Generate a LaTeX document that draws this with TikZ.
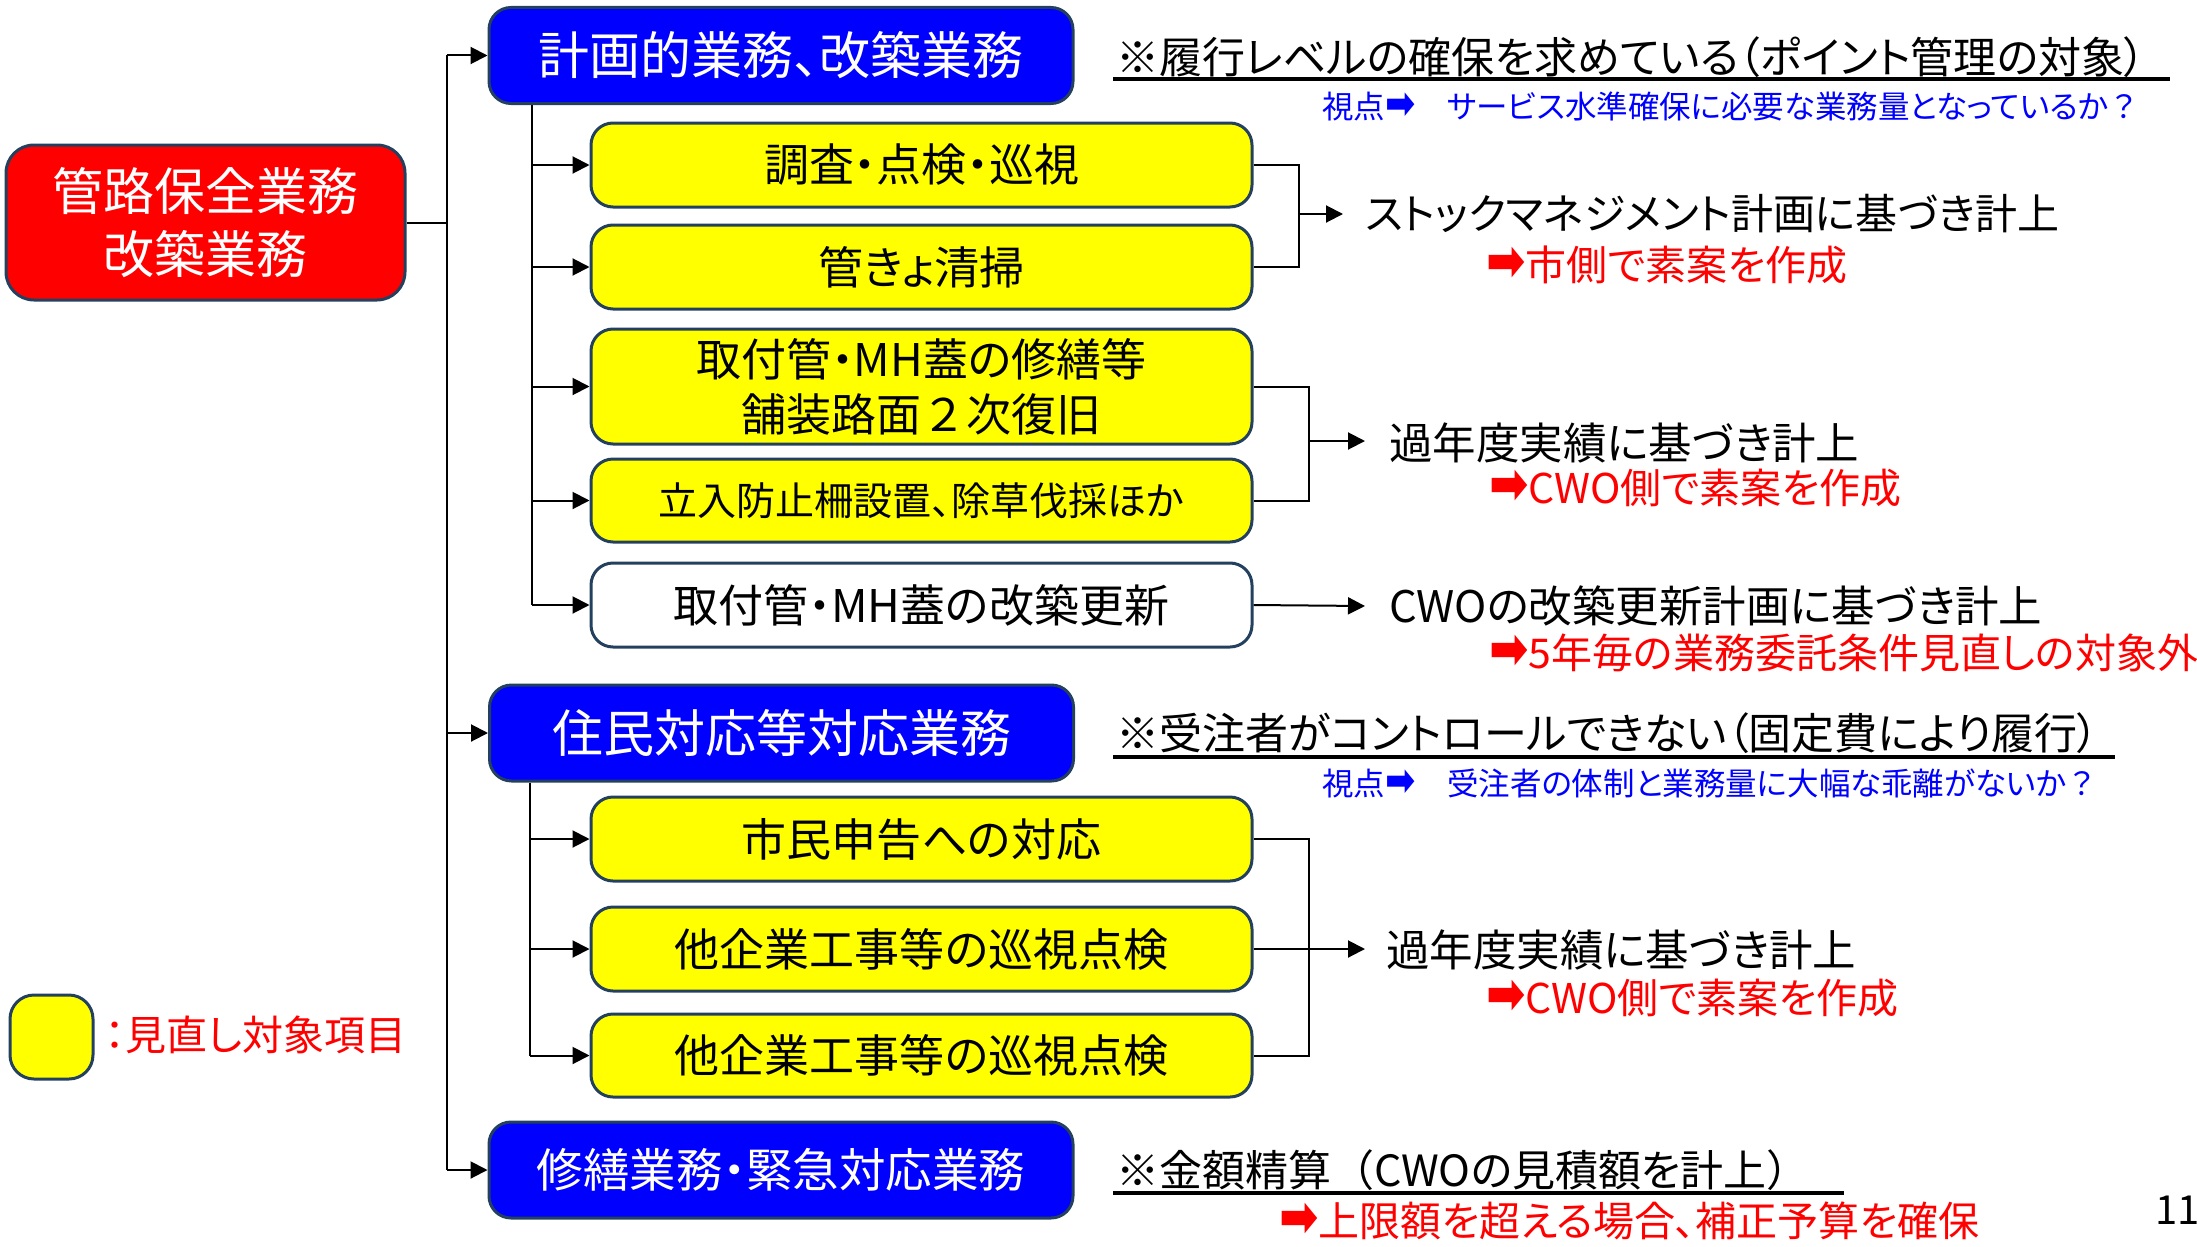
\documentclass[tikz,border=0pt]{standalone}
\usepackage{fontspec}
\setmainfont{Noto Sans CJK JP}[RawFeature=+palt]
\newfontfamily\fw{Noto Sans CJK JP}
\newfontfamily\symfont{DejaVu Sans Bold}
\newcommand\rarr{{\symfont\smash{\scalebox{1.15}[1.4]{➡}}}}
\usetikzlibrary{arrows.meta,calc}
\definecolor{bd}{HTML}{24405F}
\definecolor{ylw}{HTML}{FFFF00}
\definecolor{blu}{HTML}{0000FF}
\definecolor{rd}{HTML}{FF0000}
\begin{document}
\begin{tikzpicture}[x=1pt,y=-1pt,
  box/.style={draw=bd,line width=3pt,rounded corners=22pt,inner sep=0pt,align=center},
  hdr/.style={box,fill=blu,text=white,minimum width=584pt,minimum height=96pt,font=\fontsize{51}{60}\selectfont},
  ybox/.style={box,fill=ylw,text=black,minimum width=661pt,minimum height=84pt,font=\fontsize{45}{55}\selectfont},
  wbox/.style={box,fill=white,text=black,minimum width=661pt,minimum height=84pt,font=\fontsize{45}{55}\selectfont},
  conn/.style={draw=black,line width=2pt},
  arr/.style={conn,-{Triangle[length=17pt,width=17pt]}},
  rtxt/.style={anchor=west,inner sep=0pt,font=\fontsize{43.5}{50}\selectfont},
  redtxt/.style={anchor=west,inner sep=0pt,text=rd,font=\fontsize{41}{48}\selectfont},
  bluetxt/.style={anchor=west,inner sep=0pt,text=blu,font=\fontsize{31.5}{38}\selectfont},
  ul/.style={draw=black,line width=3.5pt}
]
\useasboundingbox (0,0) rectangle (2197,1247);

% main nodes
\node[box,fill=rd,text=white,minimum width=399pt,minimum height=155pt,rounded corners=28pt,font=\fontsize{51}{63}\selectfont] (red) at (205.5,222.5) {管路保全業務\\改築業務};
\node[hdr] (b1) at (781,55.5) {計画的業務、改築業務};
\node[ybox] (y1) at (921.5,165) {調査・点検・巡視};
\node[ybox] (y2) at (921.5,267) {管きょ清掃};
\node[ybox,minimum height=115pt] (y3) at (921.5,386.5) {取付管・MH蓋の修繕等\\舗装路面{\fw ２}次復旧};
\node[ybox,minimum height=83pt,font=\fontsize{39}{46}\selectfont] (y4) at (921.5,500.5) {立入防止柵設置、除草伐採ほか};
\node[wbox] (w5) at (921.5,605) {取付管・MH蓋の改築更新};
\node[hdr] (b2) at (781.5,733) {住民対応等対応業務};
\node[ybox] (y5) at (921.5,839) {市民申告への対応};
\node[ybox] (y6) at (921.5,949) {他企業工事等の巡視点検};
\node[ybox,minimum height=83pt] (y7) at (921.5,1055.5) {他企業工事等の巡視点検};
\node[hdr,font=\fontsize{46.5}{56}\selectfont] (b3) at (781,1170) {修繕業務・緊急対応業務};

% legend
\node[box,fill=ylw,minimum width=83pt,minimum height=84pt,rounded corners=24pt] (lg) at (51.5,1037) {};
\node[redtxt] (lgt) at (105,1035) {：見直し対象項目};

% trunks
\coordinate (mt) at (447,0);
\coordinate (st1) at (532,0);
\coordinate (st2) at (530,0);
\draw[conn] (red.east) -- (mt |- red.east);
\draw[conn] (mt |- b1.west) -- (mt |- b3.west);
\foreach \n in {b1,b2,b3} \draw[arr] (mt |- \n.west) -- (\n.west);
\draw[conn] (st1 |- b1.south) -- (st1 |- w5.west);
\foreach \n in {y1,y2,y3,y4,w5} \draw[arr] (st1 |- \n.west) -- (\n.west);
\draw[conn] (st2 |- b2.south) -- (st2 |- y7.west);
\foreach \n in {y5,y6,y7} \draw[arr] (st2 |- \n.west) -- (\n.west);

% right-hand texts
\node[anchor=west,inner sep=0pt,font=\fontsize{43}{50}\selectfont] (n1) at (1116,57) {※履行レベルの確保を求めている（ポイント管理の対象）};
\draw[ul] (1113,79) coordinate (u1a) -- (2170,79) coordinate (u1b);
\node[bluetxt] (v1) at (1322,106) {視点\rarr{}　サービス水準確保に必要な業務量となっているか{\fw ？}};

\node[rtxt,font=\fontsize{42}{50}\selectfont] (t1) at (1365,214) {ストックマネジメント計画に基づき計上};
\node[redtxt] (r1) at (1486,265) {\rarr{}市側で素案を作成};
\node[rtxt] (t2) at (1389,443) {過年度実績に基づき計上};
\node[redtxt] (r2) at (1489,488) {\rarr{}CWO側で素案を作成};
\node[rtxt] (t3) at (1389,606) {CWOの改築更新計画に基づき計上};
\node[redtxt] (r3) at (1489,653) {\rarr{}5年毎の業務委託条件見直しの対象外};

\node[anchor=west,inner sep=0pt,font=\fontsize{43}{50}\selectfont] (n2) at (1116,733) {※受注者がコントロールできない（固定費により履行）};
\draw[ul] (1113,757) coordinate (u2a) -- (2115,757) coordinate (u2b);
\node[bluetxt] (v2) at (1322,783) {視点\rarr{}　受注者の体制と業務量に大幅な乖離がないか{\fw ？}};
\node[rtxt] (t4) at (1386,950) {過年度実績に基づき計上};
\node[redtxt] (r4) at (1486,998) {\rarr{}CWO側で素案を作成};

\node[anchor=west,inner sep=0pt,font=\fontsize{43}{50}\selectfont] (n3) at (1116,1170) {※金額精算{\fw （}CWOの見積額を計上{\fw ）}};
\draw[ul] (1113,1193) coordinate (u3a) -- (1844,1193) coordinate (u3b);
\node[redtxt] (r5) at (1279,1221) {\rarr{}上限額を超える場合、補正予算を確保};
\node[anchor=west,inner sep=0pt,font=\fontsize{40}{48}\selectfont] (pg) at (2155,1210) {11};

% brackets
\coordinate (k1) at (1299,0);
\coordinate (k2) at (1309,0);
\coordinate (k3) at (1309,0);
\coordinate (a1) at (1343,214);
\coordinate (a2) at (1365,441);
\coordinate (a3) at (1365,606);
\coordinate (a4) at (1365,949);
\draw[conn] (y1.east) -- (k1 |- y1.east) -- (k1 |- y2.east) -- (y2.east);
\draw[arr] (k1 |- a1) -- (a1);
\draw[conn] (y3.east) -- (k2 |- y3.east) -- (k2 |- y4.east) -- (y4.east);
\draw[arr] (k2 |- a2) -- (a2);
\draw[arr] (w5.east) -- (a3);
\draw[conn] (y5.east) -- (k3 |- y5.east) -- (k3 |- y7.east) -- (y7.east);
\draw[conn] (y6.east) -- (k3 |- y6.east);
\draw[arr] (k3 |- a4) -- (a4);
\end{tikzpicture}
\end{document}
